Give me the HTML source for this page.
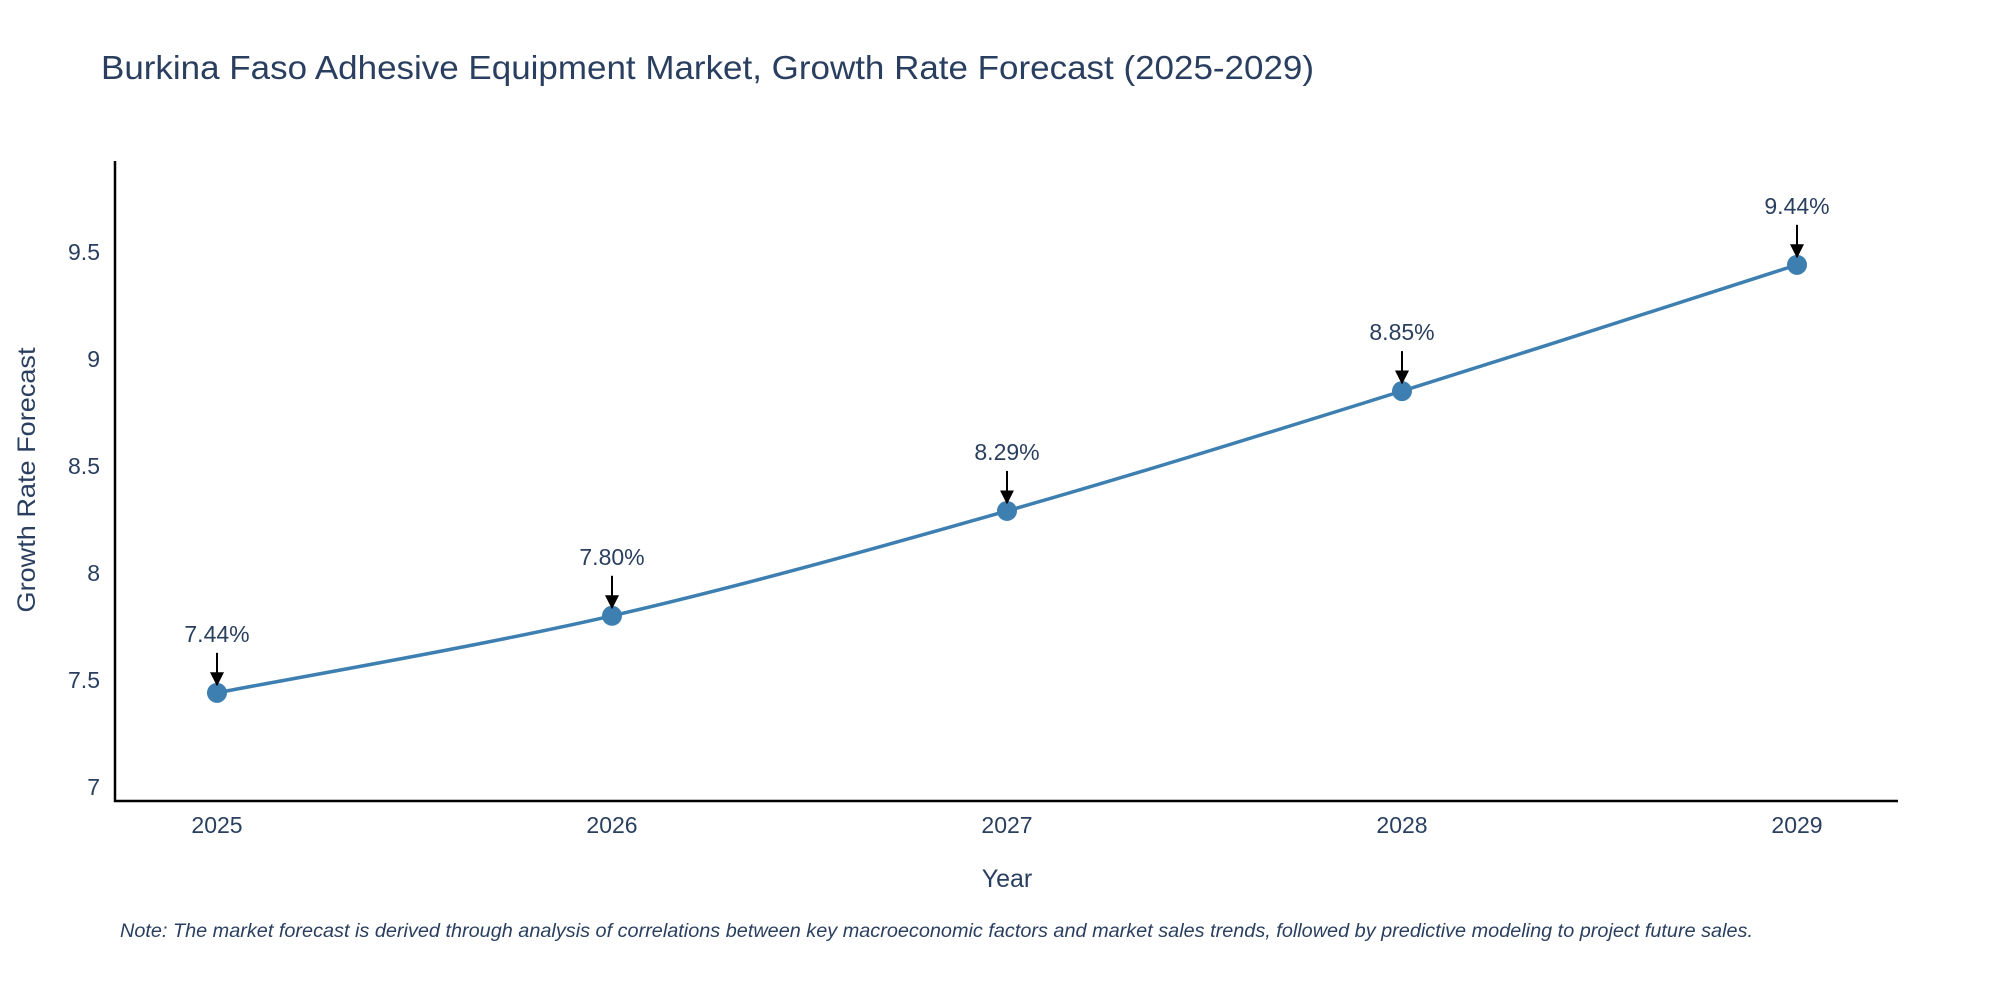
<!DOCTYPE html>
<html><head><meta charset="utf-8"><style>
body{margin:0;background:#fff;}
svg text{font-family:"Liberation Sans","DejaVu Sans",sans-serif;fill:#2a3f5f;}
</style></head><body>
<svg id="chart" width="2000" height="1000" viewBox="0 0 2000 1000">
<text x="101" y="79" font-size="33" textLength="1213" lengthAdjust="spacingAndGlyphs">Burkina Faso Adhesive Equipment Market, Growth Rate Forecast (2025-2029)</text>
<g id="yticks"></g>
<g id="xticks"></g>
<line x1="115" y1="161" x2="115" y2="802" stroke="#000" stroke-width="2.5"/>
<line x1="114" y1="801" x2="1898" y2="801" stroke="#000" stroke-width="2.5"/>
<path id="line" fill="none" stroke="#3d7fb0" stroke-width="3.5"/>
<g id="points"></g>
<text x="27" y="480" font-size="25" text-anchor="middle" transform="rotate(-90 27 480)" dy="8" textLength="265" lengthAdjust="spacingAndGlyphs">Growth Rate Forecast</text>
<text x="1007" y="887" font-size="25" text-anchor="middle">Year</text>
<text x="120" y="937" font-size="19" font-style="italic" textLength="1633" lengthAdjust="spacingAndGlyphs">Note: The market forecast is derived through analysis of correlations between key macroeconomic factors and market sales trends, followed by predictive modeling to project future sales.</text>
<defs><marker id="arr" viewBox="0 0 10 10" refX="9" refY="5" markerWidth="7" markerHeight="7" orient="auto"><path d="M0,0L10,5L0,10z" fill="#000"/></marker></defs>
</svg>
<script>
const years=[2025,2026,2027,2028,2029];
const values=[7.44,7.80,8.29,8.85,9.44];
const labels=["7.44%","7.80%","8.29%","8.85%","9.44%"];
const yTicks=[7,7.5,8,8.5,9,9.5];
const yTickLabels=["7","7.5","8","8.5","9","9.5"];
const NS="http://www.w3.org/2000/svg";
const xs=y=>217+(y-2025)*395;
const ys=v=>787-(v-7)*214;
function mk(t,a,p){const e=document.createElementNS(NS,t);for(const k in a)e.setAttribute(k,a[k]);p.appendChild(e);return e;}
const yt=document.getElementById('yticks');
yTicks.forEach((v,i)=>{const t=mk('text',{x:100,y:ys(v)+8,'font-size':23,'text-anchor':'end'},yt);t.textContent=yTickLabels[i];

});
const xt=document.getElementById('xticks');
years.forEach(y=>{const t=mk('text',{x:xs(y),y:833,'font-size':23,'text-anchor':'middle'},xt);t.textContent=y;

});
const P=years.map((y,i)=>[xs(y),ys(values[i])]);
let d=`M${P[0][0]},${P[0][1]}`;
for(let i=0;i<P.length-1;i++){const p0=P[Math.max(i-1,0)],p1=P[i],p2=P[i+1],p3=P[Math.min(i+2,P.length-1)];const s=6;
d+=` C${p1[0]+(p2[0]-p0[0])/s},${p1[1]+(p2[1]-p0[1])/s} ${p2[0]-(p3[0]-p1[0])/s},${p2[1]-(p3[1]-p1[1])/s} ${p2[0]},${p2[1]}`;}
document.getElementById('line').setAttribute('d',d);
const pg=document.getElementById('points');
P.forEach((p,i)=>{const c=mk('circle',{cx:p[0],cy:p[1],r:10,fill:'#3d7fb0'},pg);


const a=mk('line',{x1:p[0],y1:p[1]-40,x2:p[0],y2:p[1]-8,stroke:'#000','stroke-width':2,'marker-end':'url(#arr)'},pg);


const t=mk('text',{x:p[0],y:p[1]-51,'font-size':23,'text-anchor':'middle'},pg);t.textContent=labels[i];

});
</script>
</body></html>
